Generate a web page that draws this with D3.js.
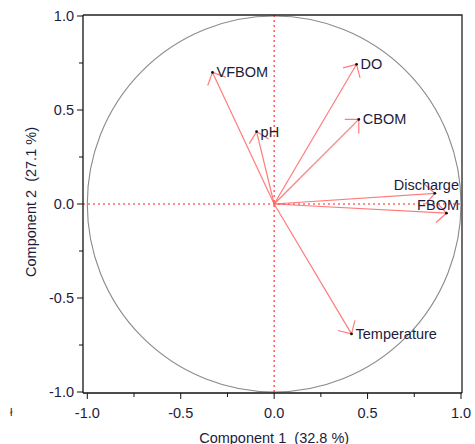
<!DOCTYPE html>
<html>
<head>
<meta charset="utf-8">
<script src="https://cdn.jsdelivr.net/npm/d3@7"></script>
<style>
  body { margin: 0; background: #fff; }
  svg { display: block; font-family: Arial, "Liberation Sans", sans-serif; }
</style>
</head>
<body>
<div id="chart"></div>
<script>
// loadings
const variables = ["VFBOM", "pH", "DO", "CBOM", "Discharge", "FBOM", "Temperature"];
const comp1     = [-0.330, -0.094, 0.441, 0.453, 0.860, 0.922, 0.414];
const comp2     = [ 0.700,  0.385, 0.743, 0.450, 0.057, -0.049, -0.691];

const majorTicks = [-1, -0.5, 0, 0.5, 1];
const minorTicks = [-0.75, -0.25, 0.25, 0.75];

const xTitle = "Component 1  (32.8 %)";
const yTitle = "Component 2  (27.1 %)";

const W = 475, H = 444;
const frame = { left: 83, right: 462, top: 15, bottom: 393 };
const textColor = "#1c1c3c";
const arrowColor = "#ff5a5a";

// plain hyphen minus, like the original
const fmt = d => d.toFixed(1);

const x = d3.scaleLinear().domain([-1, 1]).range([87.3, 461]);
const y = d3.scaleLinear().domain([-1, 1]).range([392, 16]);

const svg = d3.select("#chart").append("svg")
  .attr("width", W)
  .attr("height", H);

// unit circle
svg.append("ellipse")
  .attr("cx", x(0)).attr("cy", y(0))
  .attr("rx", x(1) - x(0)).attr("ry", y(0) - y(1))
  .attr("fill", "none")
  .attr("stroke", "#8a8a8a")
  .attr("stroke-width", 1.1);

// dotted reference lines through the origin
svg.append("line")
  .attr("x1", x(0)).attr("x2", x(0))
  .attr("y1", frame.top).attr("y2", frame.bottom)
  .attr("stroke", "#ff2020").attr("stroke-width", 1.1)
  .attr("stroke-dasharray", "2,3");
svg.append("line")
  .attr("x1", frame.left).attr("x2", frame.right)
  .attr("y1", y(0)).attr("y2", y(0))
  .attr("stroke", "#ff2020").attr("stroke-width", 1.1)
  .attr("stroke-dasharray", "2,3");

// arrows
const pts = variables.map((v, i) => ({ name: v, px: x(comp1[i]), py: y(comp2[i]) }));
const ox = x(0), oy = y(0);
const headLen = 14, headAng = Math.PI / 4;

const arrows = svg.append("g")
  .attr("stroke", arrowColor)
  .attr("stroke-width", 1.2)
  .attr("stroke-opacity", 0.8)
  .attr("fill", "none");

pts.forEach(d => {
  arrows.append("line")
    .attr("x1", ox).attr("y1", oy)
    .attr("x2", d.px).attr("y2", d.py);
  const back = Math.atan2(oy - d.py, ox - d.px);
  [-1, 1].forEach(s => {
    arrows.append("line")
      .attr("x1", d.px).attr("y1", d.py)
      .attr("x2", d.px + headLen * Math.cos(back + s * headAng))
      .attr("y2", d.py + headLen * Math.sin(back + s * headAng));
  });
});

svg.selectAll("circle.tip")
  .data(pts)
  .join("circle")
    .attr("class", "tip")
    .attr("cx", d => d.px).attr("cy", d => d.py)
    .attr("r", 1.4)
    .attr("fill", "#111");

// labels, pushed inside the frame when they would overflow
const labels = svg.selectAll("text.lab")
  .data(pts)
  .join("text")
    .attr("class", "lab")
    .attr("x", d => d.px + 4)
    .attr("y", d => d.py)
    .attr("dy", "0.35em")
    .attr("font-size", "14.5px")
    .attr("fill", textColor)
    .text(d => d.name);

labels.each(function(d) {
  const w = this.getComputedTextLength();
  if (d.px + 4 + w > frame.right - 2) {
    d3.select(this)
      .attr("x", frame.right - 3)
      .attr("y", d.py - 8)
      .attr("text-anchor", "end");
  }
});

// frame top and right
svg.append("path")
  .attr("d", `M${frame.left},${frame.top}H${frame.right}V${frame.bottom}`)
  .attr("fill", "none")
  .attr("stroke", "#222")
  .attr("stroke-width", 1.3);

// axes
const xAxis = svg.append("g")
  .attr("transform", `translate(0,${frame.bottom})`);
xAxis.append("line")
  .attr("x1", frame.left).attr("x2", frame.right)
  .attr("stroke", "#111").attr("stroke-width", 1.3);
xAxis.selectAll("line.major")
  .data(majorTicks)
  .join("line")
    .attr("class", "major")
    .attr("x1", d => x(d)).attr("x2", d => x(d))
    .attr("y1", 0).attr("y2", 6)
    .attr("stroke", "#111");
xAxis.selectAll("line.minor")
  .data(minorTicks)
  .join("line")
    .attr("class", "minor")
    .attr("x1", d => x(d)).attr("x2", d => x(d))
    .attr("y1", 0).attr("y2", 4)
    .attr("stroke", "#111");
xAxis.selectAll("text")
  .data(majorTicks)
  .join("text")
    .attr("x", d => x(d))
    .attr("y", 25)
    .attr("text-anchor", "middle")
    .attr("font-size", "14.5px")
    .attr("fill", textColor)
    .text(fmt);

const yAxis = svg.append("g")
  .attr("transform", `translate(${frame.left},0)`);
yAxis.append("line")
  .attr("y1", frame.top).attr("y2", frame.bottom)
  .attr("stroke", "#111").attr("stroke-width", 1.3);
yAxis.selectAll("line.major")
  .data(majorTicks)
  .join("line")
    .attr("class", "major")
    .attr("y1", d => y(d)).attr("y2", d => y(d))
    .attr("x1", 0).attr("x2", -6)
    .attr("stroke", "#111");
yAxis.selectAll("line.minor")
  .data(minorTicks)
  .join("line")
    .attr("class", "minor")
    .attr("y1", d => y(d)).attr("y2", d => y(d))
    .attr("x1", 0).attr("x2", -4)
    .attr("stroke", "#111");
yAxis.selectAll("text")
  .data(majorTicks)
  .join("text")
    .attr("x", -9)
    .attr("y", d => y(d))
    .attr("dy", "0.35em")
    .attr("text-anchor", "end")
    .attr("font-size", "14.5px")
    .attr("fill", textColor)
    .text(fmt);

// axis titles
svg.append("text")
  .attr("x", x(0))
  .attr("y", 442.5)
  .attr("text-anchor", "middle")
  .attr("font-size", "14.5px")
  .attr("fill", textColor)
  .style("white-space", "pre")
  .text(xTitle);

svg.append("text")
  .attr("transform", `translate(36,${y(0) - 2}) rotate(-90)`)
  .attr("text-anchor", "middle")
  .attr("font-size", "14.5px")
  .attr("fill", textColor)
  .style("white-space", "pre")
  .text(yTitle);

// stray glyph at the lower left corner of the original
svg.append("text")
  .attr("x", 10).attr("y", 416)
  .attr("font-size", "11px")
  .attr("fill", textColor)
  .text("ł");
</script>
</body>
</html>
